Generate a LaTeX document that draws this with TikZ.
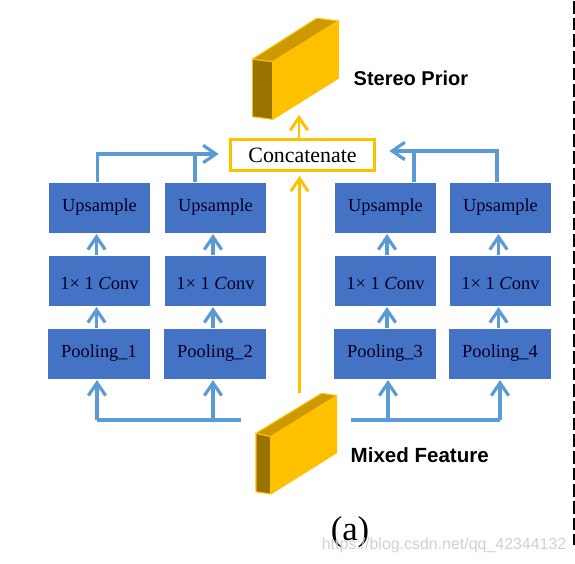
\documentclass[tikz,border=0pt]{standalone}
\usepackage{fontspec}
\setmainfont{Liberation Serif}
\setsansfont{Liberation Sans}
\usepackage{xcolor}
\usetikzlibrary{arrows.meta,positioning}
\definecolor{blockblue}{RGB}{68,114,196}
\definecolor{linkblue}{RGB}{91,155,213}
\definecolor{featgold}{RGB}{255,192,0}
\definecolor{feattop}{RGB}{204,154,0}
\definecolor{featside}{RGB}{153,115,0}

\begin{document}
\begin{tikzpicture}[
  x=0.75pt, y=-0.75pt,
  %% styles
  block/.style={rectangle, draw=none, fill=blockblue, inner sep=0pt,
                minimum width=#1*0.75pt, minimum height=37.5pt,
                font=\fontsize{13.8}{16}\selectfont, text=black!85!blue},
  block/.default=101,
  concat/.style={rectangle, draw=featgold, line width=2.2pt, fill=white,
                 minimum width=108pt, minimum height=23.5pt, inner sep=0pt,
                 font=\fontsize{16.4}{19}\selectfont},
  lnk/.style={-{Straight Barb[length=9.5pt,width=13pt,line width=2.4pt]},
              draw=linkblue, line width=2.4pt, shorten >=1pt},
  rail/.style={draw=linkblue, line width=2.4pt},
  up/.style={-{Straight Barb[length=9.5pt,width=13pt,line width=2.2pt]},
             draw=featgold, line width=2.2pt},
  face/.style={fill=#1, draw=featgold, line width=0.8pt, line join=round},
  title/.style={font=\sffamily\bfseries\fontsize{15}{18}\selectfont, anchor=west},
]
\useasboundingbox (0,0) rectangle (575,564);
\fill[white] (0,0) rectangle (575,564);

%% column centres
\def\Xa{99.5}  \def\Xb{215.5}  \def\Xc{385.5}  \def\Xd{500.5}
%% row centres
\def\Yu{207.5} \def\Yc{280.5} \def\Yp{353.5}

%% ------ page divider -------------------------------------------
\draw[black, line width=1.4pt, dash pattern=on 9.5pt off 3pt] (574,1) -- (574,545);

%% ------ blocks --------------------------------------------------
\node[block] (up1) at (\Xa,\Yu) {Upsample};
\node[block] (up2) at (\Xb,\Yu) {Upsample};
\node[block] (up3) at (\Xc,\Yu) {Upsample};
\node[block] (up4) at (\Xd,\Yu) {Upsample};

\node[block] (conv1) at (\Xa,\Yc) {\raisebox{0pt}[13.8pt][0pt]{1× 1 \textit{C}onv}};
\node[block] (conv2) at (\Xb,\Yc) {\raisebox{0pt}[13.8pt][0pt]{1× 1 \textit{C}onv}};
\node[block] (conv3) at (\Xc,\Yc) {\raisebox{0pt}[13.8pt][0pt]{1× 1 \textit{C}onv}};
\node[block] (conv4) at (\Xd,\Yc) {\raisebox{0pt}[13.8pt][0pt]{1× 1 \textit{C}onv}};

\node[block=102] (pool1) at (\Xa-0.5,\Yp) {Pooling\_1};
\node[block=102] (pool2) at (\Xb-0.5,\Yp) {Pooling\_2};
\node[block=102] (pool3) at (\Xc-0.5,\Yp) {Pooling\_3};
\node[block=102] (pool4) at (\Xd-0.5,\Yp) {Pooling\_4};

\node[concat] (cat) at (302.5,155) {Concatenate};

%% ------ stereo prior ---------------------------------------------
\draw[face=feattop] (252.3,59.3) -- (316.7,18.3) -- (338.3,21) -- (272.7,61.7) -- cycle;
\draw[face=featside] (252.3,59.3) -- (272.7,61.7) -- (272.7,119.3) -- (252.3,116.7) -- cycle;
\draw[face=featgold] (272.7,61.7) -- (338.3,21) -- (338.3,78.3) -- (272.7,119.3) -- cycle;
\coordinate (priorin) at (299,115);
\node[title] (prior) at (349,78) {Stereo Prior};

%% ------ mixed feature --------------------------------------------
\draw[face=feattop] (256,433.3) -- (321.7,393.3) -- (336.7,395.7) -- (270.7,436.7) -- cycle;
\draw[face=featside] (256,433.3) -- (270.7,436.7) -- (270.7,494) -- (256,491.7) -- cycle;
\draw[face=featgold] (270.7,436.7) -- (336.7,395.7) -- (336.7,452.7) -- (270.7,494) -- cycle;
\coordinate (mixout) at (299.5,393);
\coordinate (catin) at (299.5,176);
\node[title, font=\sffamily\bfseries\fontsize{15.4}{18}\selectfont] (mixed) at (346,455) {Mixed Feature};

\node[font=\fontsize{26}{30}\selectfont] (sub) at (350,532) {(a)};
\node[anchor=east, text=black!18, font=\sffamily\fontsize{11.95}{16}\selectfont] (mark) at (571,545)
  {https://blog.csdn.net/qq\_42344132};

%% ------ yellow flows ---------------------------------------------
\draw[up] (cat.north -| priorin) -- (priorin);
\draw[up] (mixout) -- (catin);

%% ------ block flows -----------------------------------------------
\foreach \i/\ax in {1/96.5,2/213,3/387,4/498.5}{
  \draw[lnk] (pool\i.north -| \ax,0) -- (conv\i.south -| \ax,0);
  \draw[lnk] (conv\i.north -| \ax,0) -- (up\i.south -| \ax,0);
}

%% rails above the blocks
\coordinate (topl) at (97.5,154);
\coordinate (topm) at (195,154);
\coordinate (catl) at (220,154);
\coordinate (topr) at (497,151);
\coordinate (topn) at (414,151);
\coordinate (catr) at (388,151);
\draw[rail] (up1.north -| topl) -- (topl) -- (topm);
\draw[lnk] (topm) -- (catl);
\draw[rail] (up2.north -| topm) -- (topm);
\draw[rail] (up4.north -| topr) -- (topr) -- (topn);
\draw[lnk] (topn) -- (catr);
\draw[rail] (up3.north -| topn) -- (topn);

%% rails below the blocks
\coordinate (lowl) at (241,420);
\coordinate (lowr) at (351,420);
\coordinate (xa) at (97,420);
\coordinate (xb) at (213,420);
\coordinate (xc) at (388,420);
\coordinate (xd) at (500,420);
\draw[rail] (lowl) -- (xa);
\draw[rail] (lowr) -- (xd);
\draw[lnk] (xa) -- (pool1.south -| xa);
\draw[lnk] (xb) -- (pool2.south -| xb);
\draw[lnk] (xc) -- (pool3.south -| xc);
\draw[lnk] (xd) -- (pool4.south -| xd);
\end{tikzpicture}
\end{document}
